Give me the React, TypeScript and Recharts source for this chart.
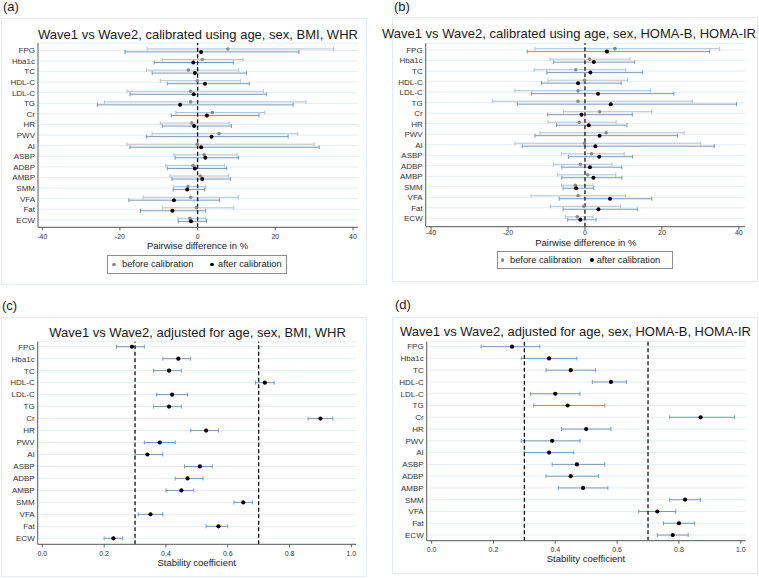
import React from 'react';
import { ScatterChart, Scatter, XAxis, YAxis, CartesianGrid, ErrorBar, ReferenceLine } from 'recharts';

const FONT = '"Liberation Sans", Arial, Helvetica, sans-serif';

const categories = ['FPG', 'Hba1c', 'TC', 'HDL-C', 'LDL-C', 'TG', 'Cr', 'HR', 'PWV', 'AI', 'ASBP', 'ADBP', 'AMBP', 'SMM', 'VFA', 'Fat', 'ECW'];
const rowTicks = categories.map((_, i) => i);

const pctTicks = [-40, -20, 0, 20, 40];
const coefTicks = [0, 0.2, 0.4, 0.6, 0.8, 1.0];

// Before calibration (same in panels a and b), pairwise difference in %
const beforeMean = [7.8, 1.2, -2.4, -0.1, -1.8, -1.8, 3.8, -1.5, 5.5, -0.1, 1.7, -1.2, 0.7, -2.5, -1.8, -0.3, -2.0];
const beforeLow = [-13.0, -9.1, -13.2, -9.6, -18.2, -24.0, -5.6, -9.6, -11.7, -18.2, -6.1, -8.2, -7.1, -6.1, -14.0, -9.0, -5.1];
const beforeHigh = [35.0, 11.7, 10.6, 11.1, 17.0, 27.9, 17.3, 8.1, 25.8, 30.0, 10.2, 7.0, 8.0, 2.1, 10.5, 9.3, 2.1];

// Panel a: after calibration (age, sex, BMI, WHR)
const aAfterMean = [0.9, -1.1, -0.7, 1.9, -1.0, -4.5, 2.4, -0.9, 3.6, 0.9, 2.0, -0.7, 1.2, -2.7, -6.1, -6.5, -1.7];
const aAfterLow = [-18.7, -11.2, -11.7, -7.8, -17.4, -25.8, -6.8, -9.1, -13.1, -17.4, -5.8, -7.8, -6.6, -6.3, -17.7, -14.7, -5.0];
const aAfterHigh = [26.1, 9.2, 12.6, 13.3, 17.7, 24.6, 15.8, 8.7, 23.3, 31.3, 10.5, 7.5, 8.5, 1.8, 5.6, 2.1, 2.3];

// Panel b: after calibration (age, sex, HOMA-B, HOMA-IR)
const bAfterMean = [5.7, 2.3, 1.4, -1.8, 3.4, 6.7, -0.9, 1.0, 3.8, 2.7, 3.7, 1.3, 2.2, -2.3, 6.5, 3.5, -1.2];
const bAfterLow = [-15.0, -8.2, -9.9, -11.3, -13.9, -17.6, -9.7, -7.4, -13.0, -16.3, -4.3, -6.0, -6.0, -5.7, -6.7, -5.7, -4.5];
const bAfterHigh = [32.4, 12.9, 15.0, 9.4, 23.1, 39.4, 12.3, 10.9, 24.0, 33.6, 12.4, 9.6, 9.6, 2.3, 17.4, 13.6, 2.9];

// Panel c: stability coefficient (age, sex, BMI, WHR)
const cMean = [0.29, 0.44, 0.41, 0.72, 0.42, 0.41, 0.90, 0.53, 0.38, 0.34, 0.51, 0.47, 0.45, 0.65, 0.35, 0.57, 0.23];
const cLow = [0.24, 0.39, 0.36, 0.69, 0.37, 0.36, 0.86, 0.48, 0.33, 0.30, 0.46, 0.43, 0.40, 0.62, 0.31, 0.53, 0.20];
const cHigh = [0.33, 0.48, 0.45, 0.75, 0.47, 0.45, 0.94, 0.57, 0.43, 0.39, 0.55, 0.52, 0.49, 0.68, 0.39, 0.60, 0.26];

// Panel d: stability coefficient (age, sex, HOMA-B, HOMA-IR)
const dMean = [0.26, 0.38, 0.45, 0.58, 0.40, 0.44, 0.87, 0.50, 0.39, 0.38, 0.47, 0.45, 0.49, 0.82, 0.73, 0.80, 0.78];
const dLow = [0.16, 0.29, 0.37, 0.52, 0.32, 0.33, 0.77, 0.42, 0.29, 0.30, 0.39, 0.37, 0.41, 0.77, 0.67, 0.75, 0.73];
const dHigh = [0.35, 0.47, 0.53, 0.63, 0.48, 0.56, 0.98, 0.58, 0.48, 0.46, 0.56, 0.54, 0.57, 0.87, 0.79, 0.85, 0.83];

const legendLabels = ['before calibration', 'after calibration'];

const GRAY_DOT = '#8a8a8a';
const BLACK_DOT = '#000000';
const BEFORE_BAR = '#b3c3d2';
const AFTER_BAR = '#7b9ab8';
const AXIS = '#5a5a5a';
const GRID = '#e6eef1';

function buildPoints(mean: number[], low: number[], high: number[], offset: number) {
  return categories.map((name, i) => ({
    name,
    x: mean[i],
    y: i + offset,
    err: [mean[i] - low[i], high[i] - mean[i]],
  }));
}

const dotShape = (fill: string, r: number) => (props: any) => (
  <circle cx={props.cx} cy={props.cy} r={r} fill={fill} />
);

type Series = { data: any[]; dot: string; r: number; bar: string };
type Panel = {
  key: string;
  left: number;
  top: number;
  width: number;
  height: number;
  margin: { top: number; right: number; bottom: number; left: number };
  yWidth: number;
  xDomain: [number, number];
  yDomain: [number, number];
  xTicks: number[];
  fmt: (v: number) => string;
  tickMargin: number;
  refs: number[];
  series: Series[];
};

const panels: Panel[] = [
  {
    key: 'a', left: 0, top: 0, width: 380, height: 290,
    margin: { top: 43, right: 22, bottom: 42.7, left: 2 }, yWidth: 36,
    xDomain: [-41.1, 41.3], yDomain: [-0.7, 16.7], xTicks: pctTicks, fmt: (v) => String(v), tickMargin: 4.2, refs: [0],
    series: [
      { data: buildPoints(beforeMean, beforeLow, beforeHigh, -0.14), dot: GRAY_DOT, r: 1.8, bar: BEFORE_BAR },
      { data: buildPoints(aAfterMean, aAfterLow, aAfterHigh, 0.14), dot: BLACK_DOT, r: 2.0, bar: AFTER_BAR },
    ],
  },
  {
    key: 'b', left: 380, top: 0, width: 379, height: 290,
    margin: { top: 43.3, right: 14, bottom: 43.3, left: 5.7 }, yWidth: 40,
    xDomain: [-41.4, 41.6], yDomain: [-0.65, 16.8], xTicks: pctTicks, fmt: (v) => String(v), tickMargin: 0.6, refs: [0],
    series: [
      { data: buildPoints(beforeMean, beforeLow, beforeHigh, -0.14), dot: GRAY_DOT, r: 1.8, bar: BEFORE_BAR },
      { data: buildPoints(bAfterMean, bAfterLow, bAfterHigh, 0.14), dot: BLACK_DOT, r: 2.0, bar: AFTER_BAR },
    ],
  },
  {
    key: 'c', left: 0, top: 290, width: 380, height: 288,
    margin: { top: 51.7, right: 24, bottom: 13.7, left: 1.7 }, yWidth: 36,
    xDomain: [-0.015, 1.015], yDomain: [-0.42, 16.5], xTicks: coefTicks, fmt: (v) => v.toFixed(1), tickMargin: 3.4, refs: [0.3, 0.7],
    series: [{ data: buildPoints(cMean, cLow, cHigh, 0), dot: BLACK_DOT, r: 2.1, bar: AFTER_BAR }],
  },
  {
    key: 'd', left: 380, top: 290, width: 379, height: 288,
    margin: { top: 51.7, right: 13.3, bottom: 17.3, left: 6.7 }, yWidth: 40,
    xDomain: [-0.016, 1.016], yDomain: [-0.42, 16.48], xTicks: coefTicks, fmt: (v) => v.toFixed(1), tickMargin: 3.2, refs: [0.3, 0.7],
    series: [{ data: buildPoints(dMean, dLow, dHigh, 0), dot: BLACK_DOT, r: 2.1, bar: AFTER_BAR }],
  },
];

const boxes = [
  { left: 1, top: 18, width: 366, height: 267 },
  { left: 392, top: 17, width: 366, height: 265 },
  { left: 1, top: 316.7, width: 366, height: 260 },
  { left: 392, top: 317, width: 366, height: 257 },
];

const Txt = ({ x, y, size, children, anchor = 'middle', color = '#1a1a1a' }: any) => (
  <div
    style={{
      position: 'absolute',
      left: x,
      top: y - 0.8465 * size,
      fontSize: size,
      lineHeight: `${size}px`,
      whiteSpace: 'nowrap',
      fontFamily: FONT,
      color,
      transform: anchor === 'middle' ? 'translateX(-50%)' : anchor === 'end' ? 'translateX(-100%)' : undefined,
    }}
  >
    {children}
  </div>
);

const Dot = ({ x, y, r, color }: any) => (
  <div style={{ position: 'absolute', left: x - r, top: y - r, width: 2 * r, height: 2 * r, borderRadius: '50%', background: color }} />
);

const LegendBox = ({ left, top, width, height, d1, t1, d2, t2 }: any) => {
  const cy = top + height / 2;
  return (
    <>
      <div style={{ position: 'absolute', left, top, width, height, border: '1px solid #8c8c8c', boxSizing: 'border-box', background: '#fff' }} />
      <Dot x={d1} y={cy} r={1.7} color={GRAY_DOT} />
      <Txt x={t1} y={cy + 3.3} size={9.3} anchor="start">{legendLabels[0]}</Txt>
      <Dot x={d2} y={cy} r={1.9} color={BLACK_DOT} />
      <Txt x={t2} y={cy + 3.3} size={9.3} anchor="start">{legendLabels[1]}</Txt>
    </>
  );
};

function PanelChart({ p }: { p: Panel }) {
  return (
    <div style={{ position: 'absolute', left: p.left, top: p.top, width: p.width, height: p.height }}>
      <ScatterChart width={p.width} height={p.height} margin={p.margin}>
        <CartesianGrid horizontal={true} vertical={false} stroke={GRID} strokeWidth={1} />
        <XAxis
          type="number"
          dataKey="x"
          domain={p.xDomain}
          allowDataOverflow
          ticks={p.xTicks}
          interval={0}
          tickFormatter={p.fmt}
          height={20}
          tickSize={3}
          tickMargin={p.tickMargin}
          stroke={AXIS}
          tick={{ fontSize: 7, fill: '#333', fontFamily: FONT }}
        />
        <YAxis
          type="number"
          dataKey="y"
          domain={p.yDomain}
          allowDataOverflow
          reversed
          ticks={rowTicks}
          interval={0}
          tickFormatter={(v: number) => categories[Math.round(v)] ?? ''}
          width={p.yWidth}
          tickLine={false}
          tickSize={2}
          tickMargin={1}
          stroke={AXIS}
          tick={{ fontSize: 8, fill: '#333', fontFamily: FONT }}
        />
        {p.series.map((s, i) => (
          <Scatter key={i} data={s.data} fill={s.dot} shape={dotShape(s.dot, s.r)} isAnimationActive={false}>
            <ErrorBar dataKey="err" direction="x" stroke={s.bar} strokeWidth={1} width={2} />
          </Scatter>
        ))}
        {p.refs.map((r) => (
          <ReferenceLine key={r} x={r} stroke="#111" strokeWidth={1.3} strokeDasharray="4 2.5" />
        ))}
      </ScatterChart>
    </div>
  );
}

export default function App() {
  return (
    <div style={{ position: 'absolute', left: 0, top: 0, width: 759, height: 578, background: '#fff', overflow: 'hidden', fontFamily: FONT }}>
      {boxes.map((b, i) => (
        <div key={i} style={{ position: 'absolute', ...b, border: '1px solid #e3ecef', boxSizing: 'border-box', background: '#fff' }} />
      ))}
      {panels.map((p) => (
        <PanelChart key={p.key} p={p} />
      ))}

      <Txt x={3} y={11.5} size={13} anchor="start">(a)</Txt>
      <Txt x={394} y={11.5} size={13} anchor="start">(b)</Txt>
      <Txt x={2} y={310} size={13} anchor="start">(c)</Txt>
      <Txt x={395} y={309} size={13} anchor="start">(d)</Txt>

      <Txt x={198} y={39.3} size={13}>Wave1 vs Wave2, calibrated using age, sex, BMI, WHR</Txt>
      <Txt x={569} y={38.3} size={13}>Wave1 vs Wave2, calibrated using age, sex, HOMA-B, HOMA-IR</Txt>
      <Txt x={197.5} y={337.3} size={13}>Wave1 vs Wave2, adjusted for age, sex, BMI, WHR</Txt>
      <Txt x={575.5} y={335.7} size={13}>Wave1 vs Wave2, adjusted for age, sex, HOMA-B, HOMA-IR</Txt>

      <Txt x={197.5} y={249.3} size={9.5}>Pairwise difference in %</Txt>
      <Txt x={585.8} y={245.6} size={9.5}>Pairwise difference in %</Txt>
      <Txt x={196.7} y={565.6} size={9.5}>Stability coefficient</Txt>
      <Txt x={586} y={562.5} size={9.5}>Stability coefficient</Txt>

      <LegendBox left={107} top={255} width={180} height={19} d1={114} t1={122} d2={212} t2={218} />
      <LegendBox left={496.7} top={251} width={176.6} height={18.3} d1={502.7} t1={510} d2={591.7} t2={596.7} />
    </div>
  );
}
